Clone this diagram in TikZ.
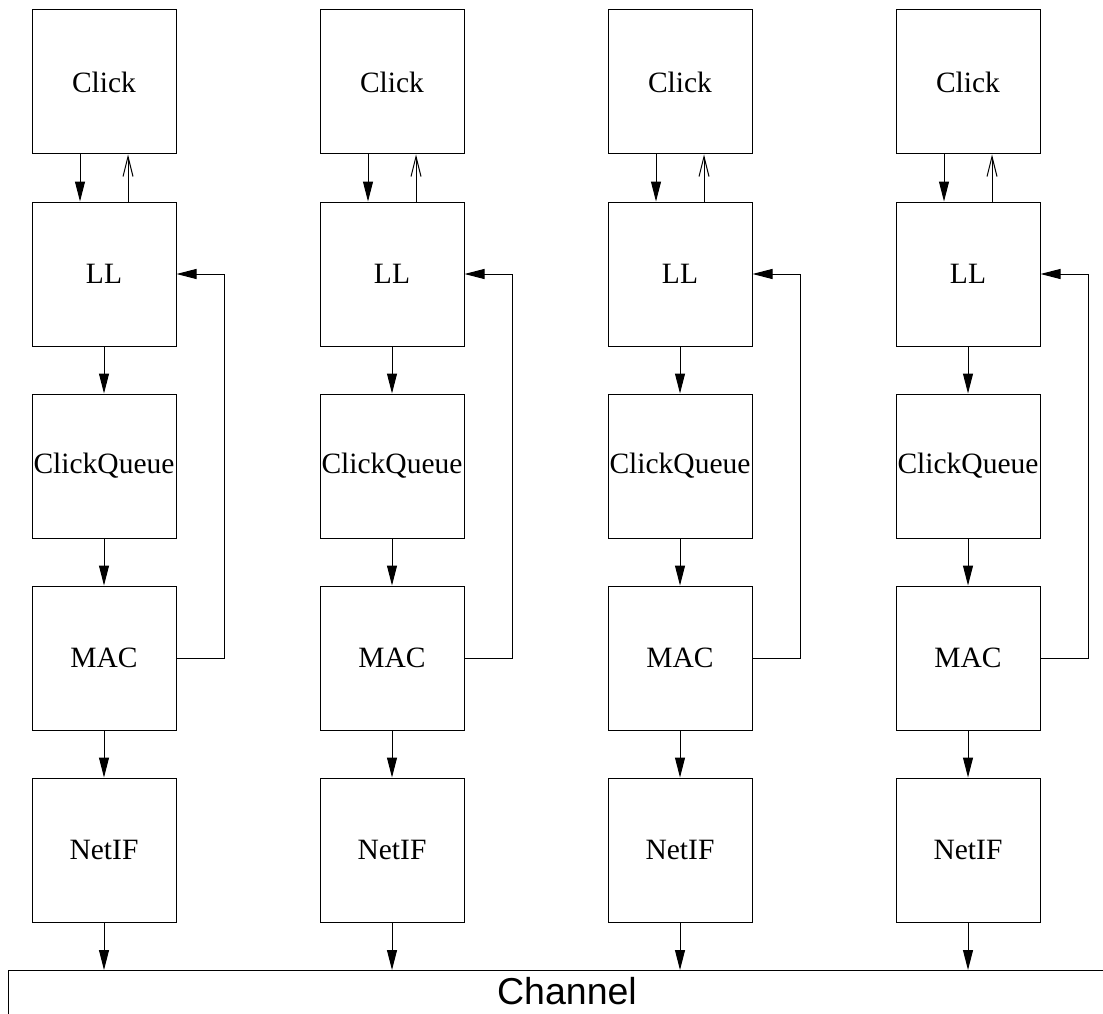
\documentclass[tikz,border=0pt]{standalone}
\usepackage{fontspec}
\setmainfont{Liberation Serif}
\newfontfamily\chfont{Liberation Sans}
\usetikzlibrary{arrows.meta}
\begin{document}
\begin{tikzpicture}[x=1pt,y=-1pt,
  blk/.style={draw, line width=1pt, minimum width=144pt, minimum height=144pt, inner sep=0pt, font=\fontsize{29.5}{32}\selectfont},
  conn/.style={line width=1pt, -{Triangle[length=20pt,width=10pt]}},
  upconn/.style={line width=1pt, -{Straight Barb[length=20pt,width=10pt,line width=1pt]}}]
\useasboundingbox (0,0) rectangle (1103,1014);
\coordinate (chtop) at (8,970);
\foreach \i/\x in {1/104,2/392,3/680,4/968}{
  \node[blk] (c\i) at (\x,82) {Click};
  \node[blk] (l\i) at (\x,274) {LL};
  \node[blk] (q\i) at (\x,466) {ClickQueue};
  \node[blk] (m\i) at (\x,658) {MAC};
  \node[blk] (n\i) at (\x,850) {NetIF};
  \draw[conn] ([xshift=-24pt]c\i.south) -- ([xshift=-24pt]l\i.north);
  \draw[upconn] ([xshift=24pt]l\i.north) -- ([xshift=24pt]c\i.south);
  \draw[conn] (l\i.south) -- (q\i.north);
  \draw[conn] (q\i.south) -- (m\i.north);
  \draw[conn] (m\i.south) -- (n\i.north);
  \draw[conn] (n\i.south) -- (n\i.south |- chtop);
  \draw[conn] (m\i.east) -- ++(48,0) |- (l\i.east);
}
\draw[line width=1pt] (1103,970) -- (chtop) -- (8,1014);
\node[font=\chfont\fontsize{37.5}{40}\selectfont] (channel) at (567,991) {Channel};
\end{tikzpicture}
\end{document}
